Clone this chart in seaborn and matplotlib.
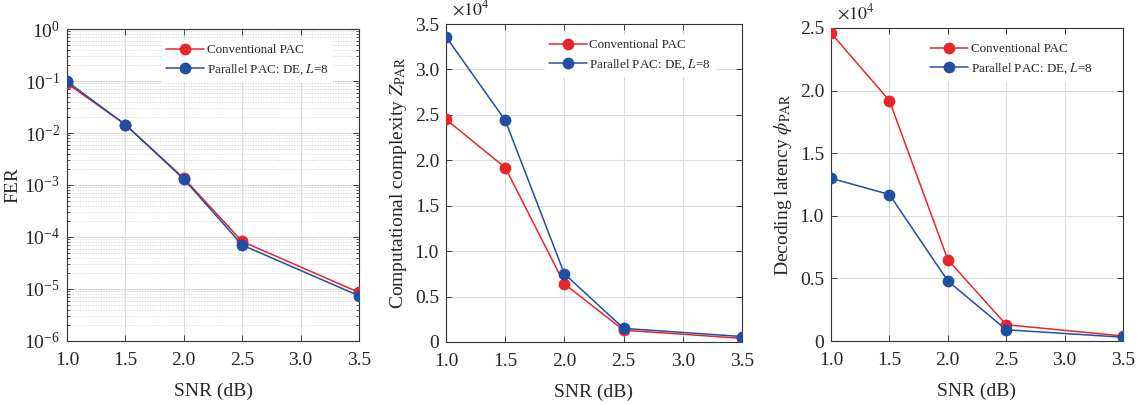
import pandas as pd
import matplotlib
matplotlib.use("Agg")
import matplotlib.pyplot as plt
import seaborn as sns
import numpy as np
from matplotlib.ticker import FuncFormatter, MultipleLocator, LogLocator, NullLocator

snr = [1.0, 1.5, 2.0, 2.5, 3.5]
series = ["Conventional PAC", "Parallel PAC: DE, $L$=8"]

fer_conv = [0.09, 0.0145, 0.00135, 8.2e-5, 8.6e-6]
fer_par = [0.098, 0.0145, 0.0013, 7.0e-5, 7.4e-6]

# in units of 10^4
cplx_conv = [2.45, 1.92, 0.64, 0.13, 0.04]
cplx_par = [3.36, 2.44, 0.75, 0.15, 0.06]

lat_conv = [2.46, 1.92, 0.65, 0.13, 0.04]
lat_par = [1.30, 1.17, 0.48, 0.09, 0.03]

sns.set_theme(style="ticks")
plt.rcParams["font.family"] = ["Liberation Serif", "DejaVu Serif"]
plt.rcParams["mathtext.fontset"] = "stix"
plt.rcParams["xtick.direction"] = "in"
plt.rcParams["ytick.direction"] = "in"

pal = {series[0]: "#e8262a", series[1]: "#1f4fa3"}


def make_df(a, b):
    return pd.DataFrame({
        "snr": snr * 2,
        "val": list(a) + list(b),
        "scheme": [series[0]] * len(a) + [series[1]] * len(b),
    })


fig = plt.figure(figsize=(11.47, 4.05), dpi=100)
ax1 = fig.add_axes([67 / 1147, 1 - 341 / 405, 292 / 1147, 312 / 405])
ax2 = fig.add_axes([446 / 1147, 1 - 342 / 405, 296 / 1147, 318 / 405])
ax3 = fig.add_axes([831 / 1147, 1 - 341 / 405, 292 / 1147, 313 / 405])

data = [(ax1, fer_conv, fer_par, "FER"),
        (ax2, cplx_conv, cplx_par, "Computational complexity $Z_{\\mathrm{PAR}}$"),
        (ax3, lat_conv, lat_par, "Decoding latency $\\phi_{\\mathrm{PAR}}$")]

for ax, a, b, ylab in data:
    df = make_df(a, b)
    sns.lineplot(data=df, x="snr", y="val", hue="scheme", palette=pal,
                 marker="o", markersize=8.5, markeredgewidth=0, linewidth=1.1,
                 ax=ax, zorder=3)
    ax.set_xlim(1.0, 3.5)
    ax.xaxis.set_major_locator(MultipleLocator(0.5))
    ax.xaxis.set_major_formatter(FuncFormatter(lambda v, p: f"{v:.1f}"))
    ax.set_xlabel("SNR (dB)", fontsize=14, labelpad=10)
    ax.set_ylabel(ylab, fontsize=14, labelpad=4)
    ax.tick_params(axis="x", labelsize=14, top=True, length=4, width=0.6, pad=8)
    ax.tick_params(axis="y", labelsize=14, right=True, length=4, width=0.6, pad=5)
    ax.grid(True, which="major", color="#dcdcdc", linewidth=0.8, zorder=0)
    for s in ax.spines.values():
        s.set_linewidth(0.8)
        s.set_color("#333333")
    ax.legend(loc="upper right", bbox_to_anchor=(0.93, 0.985), fontsize=9.4,
              frameon=True, fancybox=False, edgecolor="white", framealpha=1,
              handlelength=2.9, handletextpad=0.2, borderpad=0.3, labelspacing=0.45)
    ax.set_axisbelow(True)

ax1.set_yscale("log")
ax1.set_ylim(1e-6, 1)
ax1.yaxis.set_major_locator(LogLocator(base=10, numticks=10))
ax1.yaxis.set_minor_locator(LogLocator(base=10, subs=np.arange(2, 10), numticks=10))
ax1.xaxis.set_minor_locator(NullLocator())
ax1.tick_params(axis="y", which="minor", right=True, length=2, width=0.5)
ax1.grid(True, axis="y", which="minor", color="#d2d2d2", linestyle=":", linewidth=0.7)
ax1.yaxis.labelpad = 2

ax2.set_ylim(0, 3.5)
ax3.set_ylim(0, 2.5)
for ax in (ax2, ax3):
    ax.yaxis.set_major_locator(MultipleLocator(0.5))
    ax.yaxis.set_major_formatter(FuncFormatter(lambda v, p: "0" if abs(v) < 1e-9 else f"{v:.1f}"))
    ax.text(0.02, 1.015, "$\\times10^4$", transform=ax.transAxes, fontsize=13,
            ha="left", va="bottom")

fig.savefig("out.png", dpi=100)
